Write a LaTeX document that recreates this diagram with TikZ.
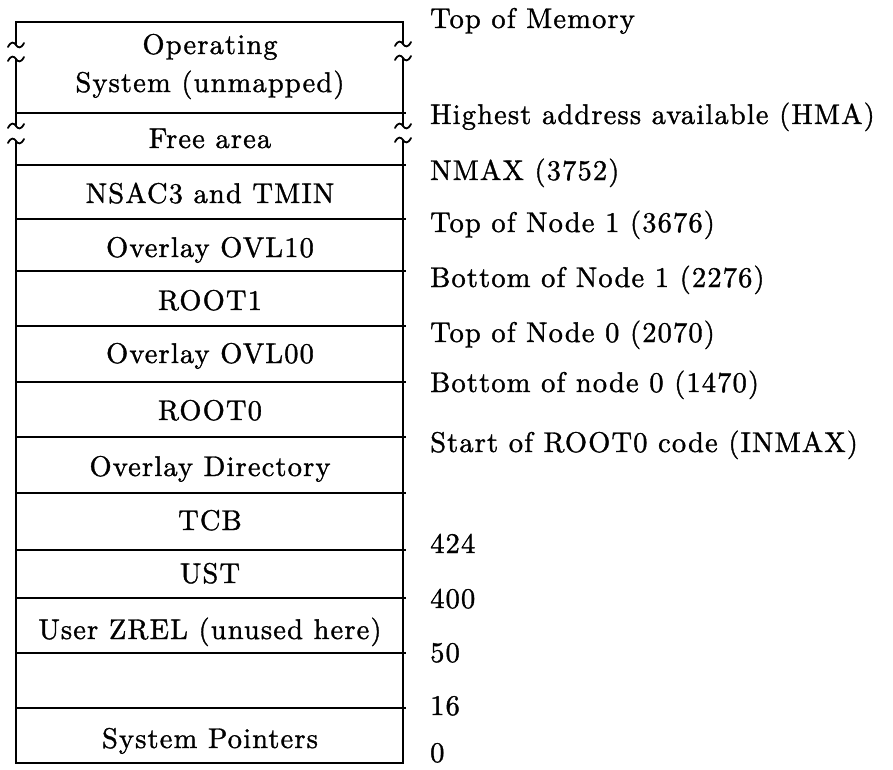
\documentclass[tikz,border=0pt]{standalone}
\usepackage{fontspec}
\setmainfont{lmroman10-regular.otf}[LetterSpace=4, FakeBold=1.2]
\begin{document}
\begin{tikzpicture}[x=1pt,y=-1pt,
  frame/.style={line width=2pt},
  txt/.style={font=\fontsize{28.5}{38}\selectfont, inner sep=0pt},
  cell/.style={txt, anchor=base},
  addr/.style={txt, anchor=base west},
  wave/.pic={\draw[line width=1.8pt, line cap=round]
      (-8,2) .. controls (-5,-4) and (-2,-3) .. (0,0)
             .. controls (2,3) and (5,4) .. (8,-2);}
]
\useasboundingbox (0,0) rectangle (893,770);

% outer frame, sides broken where memory is not drawn to scale
\draw[frame] (16,45) -- (16,22) -- (403,22) -- (403,44);
\draw[frame] (16,59) -- (16,126);
\draw[frame] (403,58) -- (403,126);
\draw[frame] (16,141) -- (16,763) -- (403,763) -- (403,140);
\foreach \yy in {45,59,126,141} { \pic at (16,\yy) {wave}; }
\foreach \yy in {44,58,126,140} { \pic at (403,\yy) {wave}; }

% region boundaries
\foreach \yy in {113,165,219,271,326,382,437,493,550,598,653,708}
  { \draw[frame] (16,\yy) -- (406,\yy); }

% region contents
\node[cell] (osA)  at (210,54)  {Operating};
\node[cell] (osB)  at (210,92)  {System (unmapped)};
\node[cell] (free) at (210,148) {Free area};
\node[cell] (nsac) at (210,203) {NSAC3 and TMIN};
\node[cell] (ovlA) at (210,257) {Overlay OVL10};
\node[cell] (rtA)  at (210,310) {ROOT1};
\node[cell] (ovlB) at (210,363) {Overlay OVL00};
\node[cell] (rtB)  at (210,420) {ROOT0};
\node[cell] (odir) at (210,476) {Overlay Directory};
\node[cell] (tcb)  at (210,530) {TCB};
\node[cell] (ust)  at (210,583) {UST};
\node[cell] (zrel) at (210,639) {User ZREL (unused here)};
\node[cell] (sysp) at (210,748) {System Pointers};

% addresses
\node[addr] (aTop)  at (430,28)  {Top of Memory};
\node[addr] (aHma)  at (430,124) {Highest address available (HMA)};
\node[addr] (aNmax) at (430,180) {NMAX (3752)};
\node[addr] (aTA)   at (430,232) {Top of Node 1 (3676)};
\node[addr] (aBA)   at (430,287) {Bottom of Node 1 (2276)};
\node[addr] (aTB)   at (430,342) {Top of Node 0 (2070)};
\node[addr] (aBB)   at (430,392) {Bottom of node 0 (1470)};
\node[addr] (aStrt) at (430,452) {Start of ROOT0 code (INMAX)};
\node[addr] (a424)  at (430,553) {424};
\node[addr] (a400)  at (430,608) {400};
\node[addr] (a50)   at (430,662) {50};
\node[addr] (a16)   at (430,715) {16};
\node[addr] (a0)    at (430,762) {0};
\end{tikzpicture}
\end{document}
